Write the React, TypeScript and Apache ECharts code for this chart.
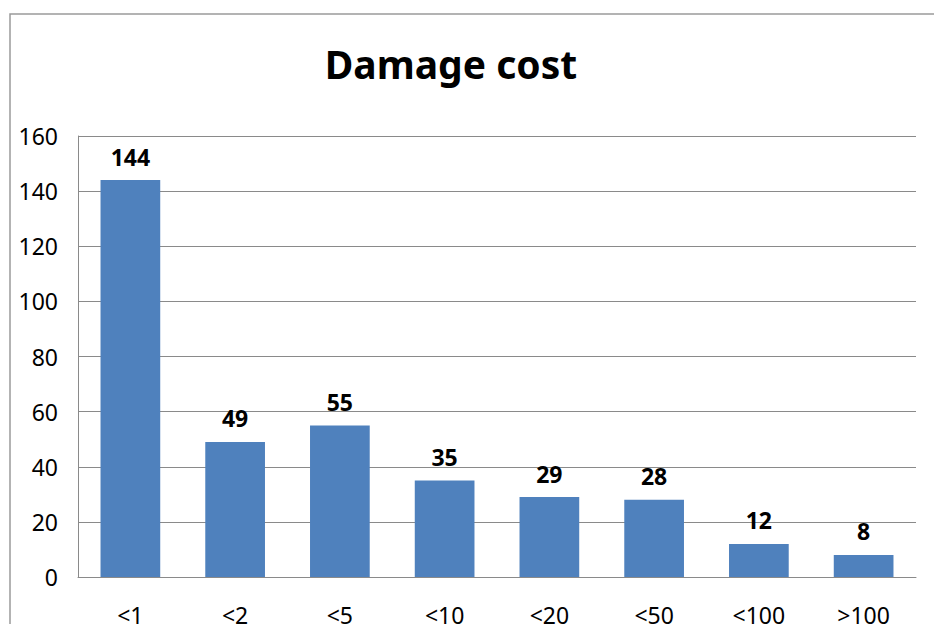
import React, { useEffect, useRef } from "react";
import * as echarts from "echarts";

const categories = ["<1", "<2", "<5", "<10", "<20", "<50", "<100", ">100"];
const counts = [144, 49, 55, 35, 29, 28, 12, 8];
const yTicks = { min: 0, max: 160, interval: 20 };

const FONT = "'Noto Sans', 'Liberation Sans', sans-serif";

export default function App() {
  const ref = useRef<HTMLDivElement>(null);

  useEffect(() => {
    if (!ref.current) return;
    const chart = echarts.init(ref.current, undefined, { renderer: "svg" });
    chart.setOption({
      animation: false,
      backgroundColor: "#ffffff",
      title: {
        text: "Damage cost",
        left: 446,
        top: 39,
        textAlign: "center",
        textStyle: { fontFamily: FONT, fontSize: 39, fontWeight: "bold", color: "#000" },
      },
      graphic: [
        {
          type: "rect",
          shape: { x: 10, y: 14, width: 1000, height: 1000 },
          style: { fill: "none", stroke: "#9a9a9a", lineWidth: 1.5 },
          silent: true,
        },
      ],
      grid: { left: 78, top: 136, right: 18, bottom: 47, outerBoundsMode: "none", containLabel: false },
      xAxis: {
        type: "category",
        data: categories,
        axisLine: { show: true, lineStyle: { color: "#8a8a8a", width: 1 } },
        axisTick: { show: false },
        axisLabel: { fontFamily: FONT, fontSize: 23, color: "#000", margin: 26 },
      },
      yAxis: {
        type: "value",
        min: yTicks.min,
        max: yTicks.max,
        interval: yTicks.interval,
        axisLine: { show: true, lineStyle: { color: "#8a8a8a", width: 1 } },
        axisTick: { show: false },
        splitLine: { show: true, lineStyle: { color: "#8a8a8a", width: 1 } },
        axisLabel: { fontFamily: FONT, fontSize: 23, color: "#000", margin: 20 },
      },
      series: [
        {
          type: "bar",
          data: counts,
          barWidth: "57%",
          itemStyle: { color: "#4f81bd" },
          label: {
            show: true,
            position: "top",
            distance: 12,
            fontFamily: FONT,
            fontSize: 23,
            fontWeight: "bold",
            color: "#000",
          },
        },
      ],
    });
    return () => chart.dispose();
  }, []);

  return (
    <div
      ref={ref}
      style={{ position: "fixed", left: 0, top: 0, width: 934, height: 624 }}
    />
  );
}
